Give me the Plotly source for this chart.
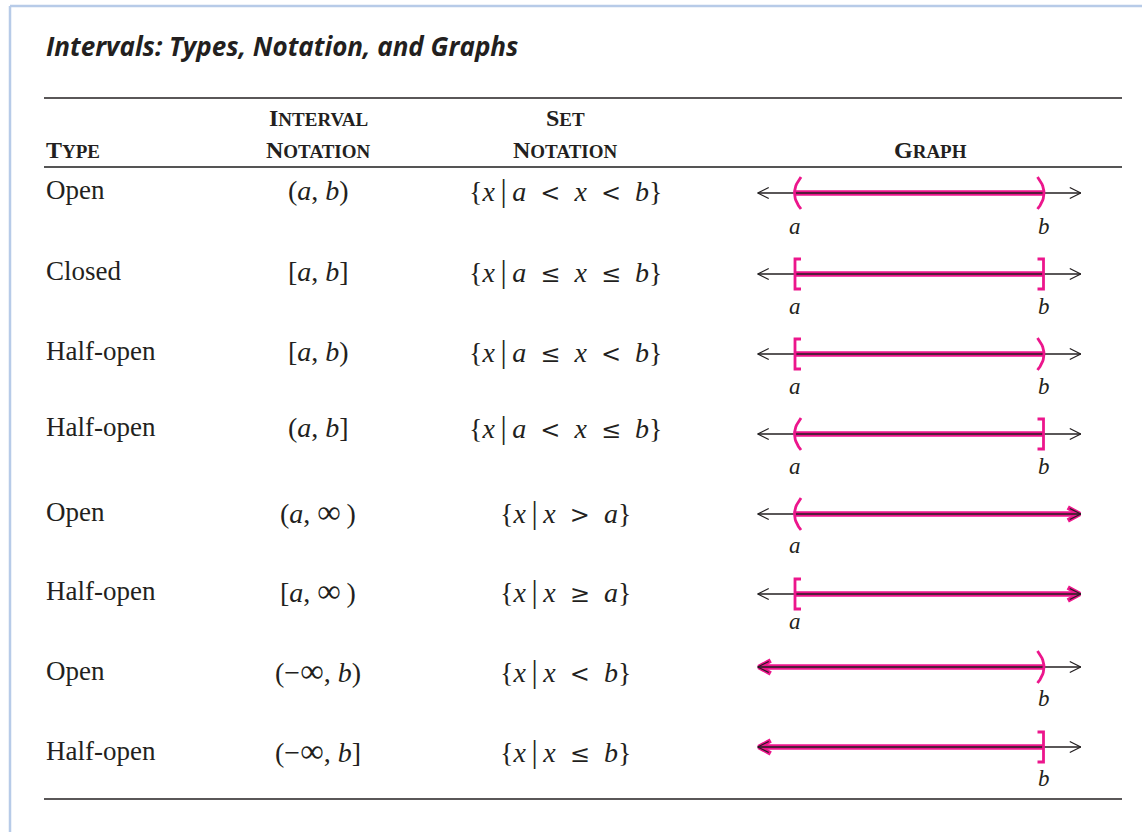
import plotly.graph_objects as go

# ---------------- data ----------------
title = "Intervals: Types, Notation, and Graphs"

header_type = ["T", "YPE"]
header_interval = [["I", "NTERVAL"], ["N", "OTATION"]]
header_set = [["S", "ET"], ["N", "OTATION"]]
header_graph = ["G", "RAPH"]

types = ["Open", "Closed", "Half-open", "Half-open",
         "Open", "Half-open", "Open", "Half-open"]

TS = "\u2009"
NB = "\u00a0"


def sym(s, size=24, family="DejaVu Serif"):
    return "<span style='font-size:%dpx;font-family:%s'>%s</span>" % (size, family, s)


INF = sym("∞", 33, "Liberation Serif")
interval_notation = [
    "(<i>a</i>, <i>b</i>)",
    "[<i>a</i>, <i>b</i>]",
    "[<i>a</i>, <i>b</i>)",
    "(<i>a</i>, <i>b</i>]",
    "(<i>a</i>, " + INF + TS + ")",
    "[<i>a</i>, " + INF + TS + ")",
    "(−" + INF + ", <i>b</i>)",
    "(−" + INF + ", <i>b</i>]",
]

PAD = NB + NB
LT = PAD + sym("&lt;") + PAD
LE = PAD + sym("≤") + PAD
GT = PAD + sym("&gt;") + PAD
GE = PAD + sym("≥") + PAD
BAR = TS + sym("|", 31, "Liberation Serif") + TS
set_notation = [
    "{<i>x</i>" + BAR + "<i>a</i>" + LT + "<i>x</i>" + LT + "<i>b</i>}",
    "{<i>x</i>" + BAR + "<i>a</i>" + LE + "<i>x</i>" + LE + "<i>b</i>}",
    "{<i>x</i>" + BAR + "<i>a</i>" + LE + "<i>x</i>" + LT + "<i>b</i>}",
    "{<i>x</i>" + BAR + "<i>a</i>" + LT + "<i>x</i>" + LE + "<i>b</i>}",
    "{<i>x</i>" + BAR + "<i>x</i>" + GT + "<i>a</i>}",
    "{<i>x</i>" + BAR + "<i>x</i>" + GE + "<i>a</i>}",
    "{<i>x</i>" + BAR + "<i>x</i>" + LT + "<i>b</i>}",
    "{<i>x</i>" + BAR + "<i>x</i>" + LE + "<i>b</i>}",
]

# endpoint kinds: "(" open, "[" closed, "inf" unbounded
left_end = ["(", "[", "[", "(", "(", "[", "inf", "inf"]
right_end = [")", "]", ")", "]", "inf", "inf", ")", "]"]
endpoint_labels = ["a", "b"]
endpoint_values = [0.0, 1.0]      # a and b on the number line

# ---------------- layout constants ----------------
W, H = 1142, 832
SERIF = "Liberation Serif"
SANS = "Open Sans"
INK = "#231f20"
MAGENTA = "#ec168c"
BORDER = "#b7cbe8"

row_text_y = [190, 271, 351, 427, 512, 591, 671, 751]
row_line_y = [193, 274, 354, 434, 514, 594, 667, 747]
row_label_y = [226, 306, 386, 466, 545, 621, 698, 778]

col_type_x = 44
col_interval_x = 318
col_set_x = 565
col_graph_x = 930

# number-line axis: px per unit and placement
PX = 248.5
A_PX = 795.0
NL_RANGE = [-0.16, 1.16]
dom0 = (A_PX + NL_RANGE[0] * PX) / W
dom1 = (A_PX + NL_RANGE[1] * PX) / W
L_TIP, R_TIP = -0.15, 1.15


def u(px):
    return px / PX


fig = go.Figure()

# ---- magenta interval segments and magenta arrowheads ----
mx, my = [], []
hx, hy = [], []
for i in range(len(types)):
    y = row_line_y[i]
    x0 = endpoint_values[0] if left_end[i] != "inf" else L_TIP + u(2)
    x1 = endpoint_values[1] if right_end[i] != "inf" else R_TIP - u(2)
    mx += [x0, x1, None]
    my += [y, y, None]
    if left_end[i] == "inf":
        hx += [L_TIP + u(13), L_TIP + u(1), L_TIP + u(13), None]
        hy += [y - 6.5, y, y + 6.5, None]
    if right_end[i] == "inf":
        hx += [R_TIP - u(13), R_TIP - u(1), R_TIP - u(13), None]
        hy += [y - 6.5, y, y + 6.5, None]

fig.add_trace(go.Scatter(x=mx, y=my, xaxis="x2", yaxis="y", mode="lines",
                         line=dict(color=MAGENTA, width=5.5), hoverinfo="skip"))
fig.add_trace(go.Scatter(x=hx, y=hy, xaxis="x2", yaxis="y", mode="lines",
                         line=dict(color=MAGENTA, width=4.5), hoverinfo="skip"))

# ---- black number lines with thin arrowheads ----
bx, by = [], []
for i in range(len(types)):
    y = row_line_y[i]
    bx += [L_TIP, R_TIP, None]
    by += [y, y, None]
    bx += [L_TIP + u(11), L_TIP, L_TIP + u(11), None]
    by += [y - 5.5, y, y + 5.5, None]
    bx += [R_TIP - u(11), R_TIP, R_TIP - u(11), None]
    by += [y - 5.5, y, y + 5.5, None]
fig.add_trace(go.Scatter(x=bx, y=by, xaxis="x2", yaxis="y", mode="lines",
                         line=dict(color=INK, width=1.3), hoverinfo="skip"))

# ---- endpoint symbols ----
ex, ey = [], []
for i in range(len(types)):
    y = row_line_y[i]
    for side, kind in ((0, left_end[i]), (1, right_end[i])):
        if kind == "inf":
            continue
        xv = endpoint_values[side]
        sgn = 1 if side == 0 else -1   # symbol opens toward interior
        if kind in "()":
            n = 18
            for k in range(n + 1):
                t = k / n
                px_off = (1 - t) ** 2 * 6 + 2 * (1 - t) * t * (-7) + t ** 2 * 6
                ex.append(xv + sgn * u(px_off))
                ey.append(y - 16 + 32 * t)
            ex.append(None); ey.append(None)
        else:
            ex += [xv + sgn * u(6), xv, xv, xv + sgn * u(6), None]
            ey += [y - 15, y - 15, y + 15, y + 15, None]
fig.add_trace(go.Scatter(x=ex, y=ey, xaxis="x2", yaxis="y", mode="lines",
                         line=dict(color=MAGENTA, width=2.8), hoverinfo="skip"))

# ---------------- annotations ----------------
ann = []


def text(x, y, s, size=27, anchor="left", family=SERIF, xref="x", **kw):
    ann.append(dict(x=x, y=y, xref=xref, yref="y", text=s, showarrow=False,
                    xanchor=anchor, yanchor="middle",
                    font=dict(family=family, size=size, color=INK, **kw)))


def smallcaps(pair, small=19):
    return "<b>%s<span style='font-size:%dpx'>%s</span></b>" % (pair[0], small, pair[1])


# title
text(44, 46, title, size=26, family=SANS, weight="bold", style="italic")

# headers
HS = 24
text(col_type_x, 150, smallcaps(header_type), size=HS)
text(col_interval_x, 118, smallcaps(header_interval[0]), size=HS, anchor="center")
text(col_interval_x, 150, smallcaps(header_interval[1]), size=HS, anchor="center")
text(col_set_x, 118, smallcaps(header_set[0]), size=HS, anchor="center")
text(col_set_x, 150, smallcaps(header_set[1]), size=HS, anchor="center")
text(col_graph_x, 150, smallcaps(header_graph), size=HS, anchor="center")

# rows
for i in range(len(types)):
    ty = row_text_y[i]
    text(col_type_x, ty, types[i], size=27)
    text(col_interval_x, ty, interval_notation[i], size=28, anchor="center")
    text(col_set_x, ty, set_notation[i], size=28, anchor="center")
    for side, kind in ((0, left_end[i]), (1, right_end[i])):
        if kind == "inf":
            continue
        text(endpoint_values[side], row_label_y[i], "<i>%s</i>" % endpoint_labels[side],
             size=23, anchor="center", xref="x2")

# ---------------- rules and frame ----------------
shapes = [
    dict(type="line", xref="x", yref="y", x0=10, x1=W, y0=6, y1=6,
         line=dict(color=BORDER, width=2.5)),
    dict(type="line", xref="x", yref="y", x0=10, x1=10, y0=6, y1=H,
         line=dict(color=BORDER, width=2.5)),
    dict(type="line", xref="x", yref="y", x0=44, x1=1122, y0=98, y1=98,
         line=dict(color=INK, width=1.4)),
    dict(type="line", xref="x", yref="y", x0=44, x1=1122, y0=167, y1=167,
         line=dict(color="#555555", width=2)),
    dict(type="line", xref="x", yref="y", x0=44, x1=1122, y0=799, y1=799,
         line=dict(color=INK, width=1.4)),
]

fig.update_layout(
    width=W, height=H,
    margin=dict(l=0, r=0, t=0, b=0),
    paper_bgcolor="white", plot_bgcolor="white",
    showlegend=False,
    xaxis=dict(range=[0, W], domain=[0, 1], visible=False, fixedrange=True),
    xaxis2=dict(range=NL_RANGE, domain=[dom0, dom1], anchor="y",
                visible=False, fixedrange=True),
    yaxis=dict(range=[H, 0], domain=[0, 1], visible=False, fixedrange=True),
    annotations=ann,
    shapes=shapes,
)

fig.write_html("out.html", post_script="document.body.style.margin='0';",
               config={"displayModeBar": False})
